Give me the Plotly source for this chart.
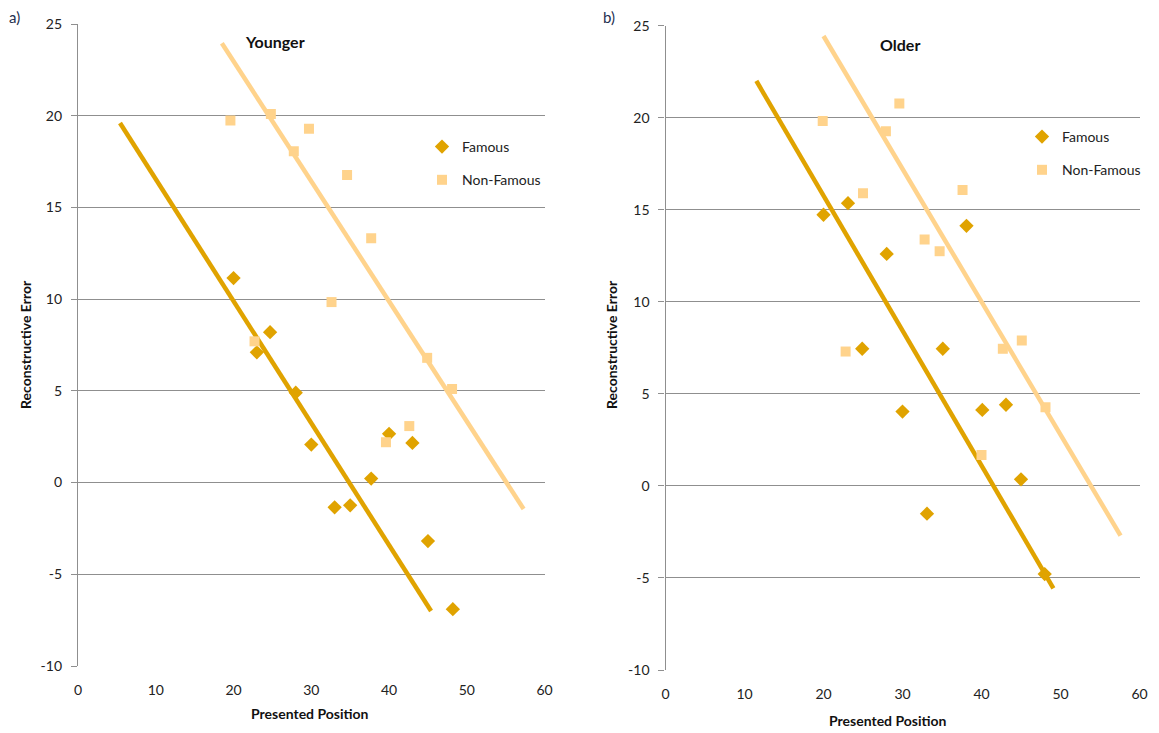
import plotly.graph_objects as go

# ---------------- data ----------------
# Panel a) Younger
young_fam_x = [20, 23, 24.7, 28, 30, 33, 35, 37.7, 40, 43, 45, 48.2]
young_fam_y = [11.15, 7.1, 8.2, 4.9, 2.07, -1.35, -1.24, 0.22, 2.66, 2.16, -3.19, -6.9]
young_non_x = [19.6, 22.7, 24.8, 27.75, 29.7, 32.6, 34.6, 37.7, 39.6, 42.6, 44.9, 48.1]
young_non_y = [19.74, 7.7, 20.1, 18.06, 19.29, 9.84, 16.77, 13.32, 2.2, 3.08, 6.8, 5.1]
young_fam_trend_x = [5.4, 45.4]
young_fam_trend_y = [19.6, -7.0]
young_non_trend_x = [18.5, 57.3]
young_non_trend_y = [23.95, -1.44]

# Panel b) Older
old_fam_x = [20, 23.1, 24.9, 28, 30, 33.1, 35.1, 38.1, 40.1, 43.1, 45, 48]
old_fam_y = [14.73, 15.36, 7.45, 12.6, 4.04, -1.51, 7.45, 14.13, 4.13, 4.41, 0.36, -4.79]
old_non_x = [19.9, 22.8, 25.0, 27.9, 29.6, 32.8, 34.7, 37.6, 40.0, 42.7, 45.1, 48.1]
old_non_y = [19.82, 7.3, 15.9, 19.27, 20.78, 13.38, 12.75, 16.08, 1.68, 7.45, 7.9, 4.28]
old_fam_trend_x = [11.5, 49.1]
old_fam_trend_y = [22.0, -5.56]
old_non_trend_x = [20.0, 57.6]
old_non_trend_y = [24.44, -2.7]

x_range = [0, 60]
y_range = [-10, 25]
x_ticks = [0, 10, 20, 30, 40, 50, 60]
y_ticks = [-10, -5, 0, 5, 10, 15, 20, 25]
y_tick_labels = ["-10", "-5", "0", "5", "10", "15", "20", "25"]

# ---------------- style ----------------
W, H = 1159, 733
FAM = "#E0A300"
NON = "#FFD38C"
GRID = "#8F8F8F"
FONT = "Lato, 'Open Sans', sans-serif"

dom_a_x = [78 / W, 544.6 / W]
dom_a_y = [1 - 666 / H, 1 - 24 / H]
dom_b_x = [665.5 / W, 1139.5 / W]
dom_b_y = [1 - 670 / H, 1 - 25.7 / H]


def zero_pos(dom):
    return dom[0] + (0 - y_range[0]) / (y_range[1] - y_range[0]) * (dom[1] - dom[0])


fig = go.Figure()


def add_panel(xa, ya, legend, fx, fy, nx, ny, ftx, fty, ntx, nty):
    fig.add_trace(go.Scatter(x=ftx, y=fty, mode="lines", line=dict(color=FAM, width=4.5),
                             xaxis=xa, yaxis=ya, showlegend=False, hoverinfo="skip"))
    fig.add_trace(go.Scatter(x=ntx, y=nty, mode="lines", line=dict(color=NON, width=4.5),
                             xaxis=xa, yaxis=ya, showlegend=False, hoverinfo="skip"))
    fig.add_trace(go.Scatter(x=fx, y=fy, mode="markers", name="Famous",
                             marker=dict(symbol="diamond", size=11, color=FAM),
                             xaxis=xa, yaxis=ya, legend=legend, legendgroup=legend + "f"))
    fig.add_trace(go.Scatter(x=nx, y=ny, mode="markers", name="Non-Famous",
                             marker=dict(symbol="square", size=10, color=NON),
                             xaxis=xa, yaxis=ya, legend=legend, legendgroup=legend + "n"))


add_panel("x", "y", "legend", young_fam_x, young_fam_y, young_non_x, young_non_y,
          young_fam_trend_x, young_fam_trend_y, young_non_trend_x, young_non_trend_y)
add_panel("x2", "y2", "legend2", old_fam_x, old_fam_y, old_non_x, old_non_y,
          old_fam_trend_x, old_fam_trend_y, old_non_trend_x, old_non_trend_y)

tickfont = dict(family=FONT, size=14, color="#222222")


def xaxis_cfg(dom, anchor):
    return dict(domain=dom, anchor=anchor, range=x_range, tickvals=x_ticks,
                showgrid=False, zeroline=False, showline=False, ticks="",
                ticklabelstandoff=14, tickfont=tickfont, fixedrange=True,
                automargin=False)


def yaxis_cfg(dom, anchor):
    return dict(domain=dom, anchor=anchor, range=y_range, tickvals=y_ticks,
                ticktext=y_tick_labels,
                showgrid=True, gridcolor=GRID, gridwidth=1, zeroline=False,
                showline=True, linecolor=GRID, linewidth=1.3,
                ticks="outside", ticklen=6, tickcolor=GRID, tickwidth=1,
                ticklabelstandoff=6, tickfont=tickfont, fixedrange=True,
                automargin=False)


def zero_axis_cfg(dom, ydom, overlay):
    return dict(domain=dom, anchor="free", position=zero_pos(ydom), overlaying=overlay,
                range=x_range, tickvals=x_ticks, showticklabels=False,
                showgrid=False, zeroline=False, showline=True, linecolor=GRID,
                linewidth=1.3, ticks="outside", ticklen=6, tickcolor=GRID, tickwidth=1,
                fixedrange=True, automargin=False)


legend_font = dict(family=FONT, size=14, color="#222222")

fig.update_layout(
    width=W, height=H,
    margin=dict(l=0, r=0, t=0, b=0, pad=0),
    paper_bgcolor="white", plot_bgcolor="white",
    xaxis=xaxis_cfg(dom_a_x, "y"),
    yaxis=yaxis_cfg(dom_a_y, "x"),
    xaxis2=xaxis_cfg(dom_b_x, "y2"),
    yaxis2=yaxis_cfg(dom_b_y, "x2"),
    xaxis3=zero_axis_cfg(dom_a_x, dom_a_y, "x"),
    xaxis4=zero_axis_cfg(dom_b_x, dom_b_y, "x2"),
    legend=dict(x=422 / W, y=1 - 131 / H, xanchor="left", yanchor="top",
                font=legend_font, bgcolor="rgba(0,0,0,0)", tracegroupgap=12,
                itemwidth=30),
    legend2=dict(x=1022 / W, y=1 - 121 / H, xanchor="left", yanchor="top",
                 font=legend_font, bgcolor="rgba(0,0,0,0)", tracegroupgap=12,
                 itemwidth=30),
    showlegend=True,
)

title_font = dict(family=FONT, size=14, color="#111111")
ann = [
    dict(text="a)", x=14 / W, y=1 - 17 / H, font=dict(family=FONT, size=15, color="#1F2F4F")),
    dict(text="b)", x=609 / W, y=1 - 17 / H, font=dict(family=FONT, size=15, color="#1F2F4F")),
    dict(text="<b>Younger</b>", x=275 / W, y=1 - 42 / H, font=dict(family=FONT, size=16, color="#111111")),
    dict(text="<b>Older</b>", x=900 / W, y=1 - 44 / H, font=dict(family=FONT, size=16, color="#111111")),
    dict(text="<b>Reconstructive Error</b>", x=25 / W, y=1 - 345 / H, textangle=-90, font=title_font),
    dict(text="<b>Reconstructive Error</b>", x=611 / W, y=1 - 345 / H, textangle=-90, font=title_font),
    dict(text="<b>Presented Position</b>", x=310 / W, y=1 - 713 / H, font=title_font),
    dict(text="<b>Presented Position</b>", x=888 / W, y=1 - 720 / H, font=title_font),
]
for a in ann:
    a.update(xref="paper", yref="paper", showarrow=False, xanchor="center", yanchor="middle")
fig.update_layout(annotations=ann)

fig.write_html("out.html",
               config={"displayModeBar": False},
               post_script="document.body.style.margin='0';document.body.style.overflow='hidden';")
